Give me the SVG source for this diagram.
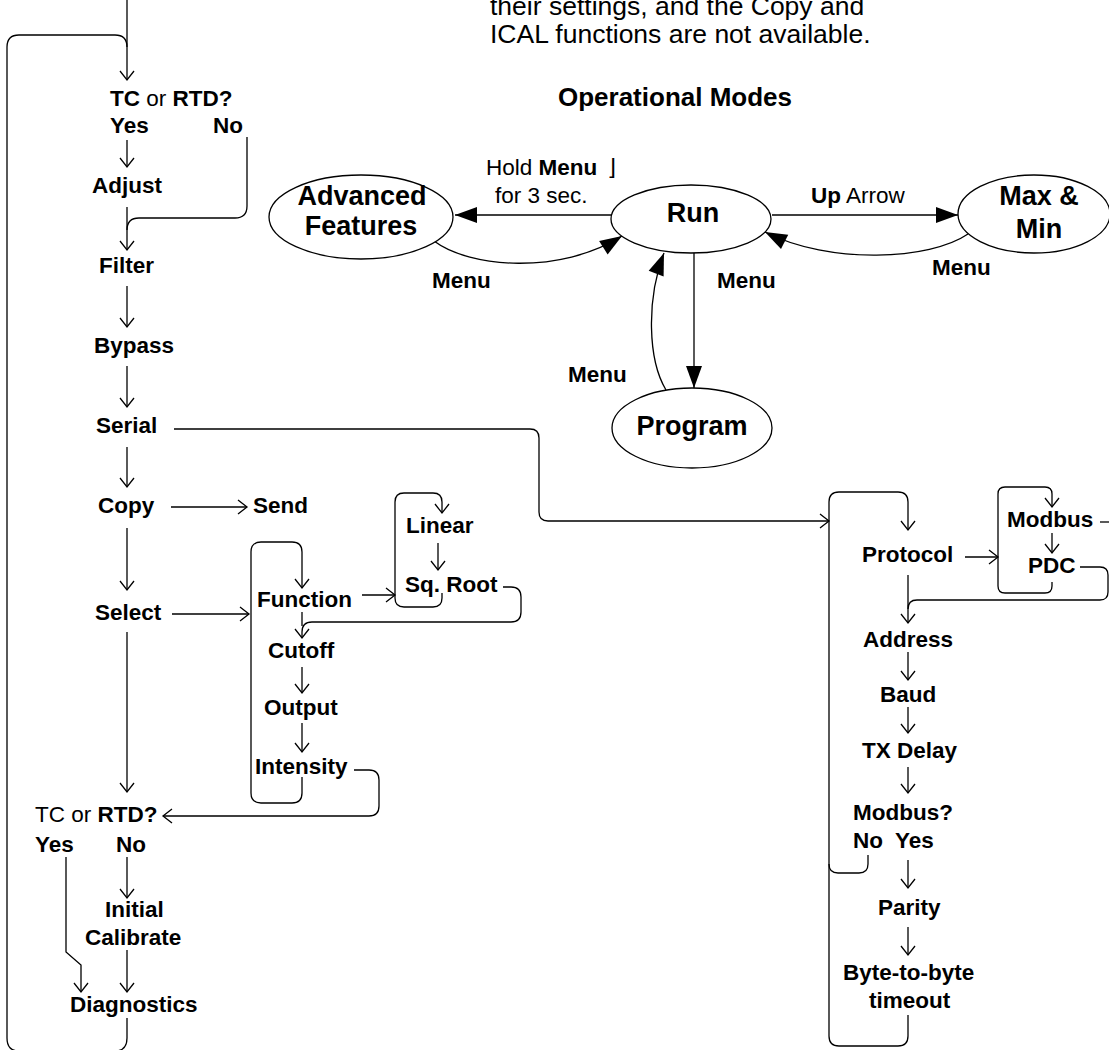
<svg xmlns="http://www.w3.org/2000/svg" width="1109" height="1050" viewBox="0 0 1109 1050">
<style>
text{font-family:"Liberation Sans",Arial,"DejaVu Sans",sans-serif;fill:#000}
.t{font-size:22.5px;font-weight:bold}
.r{font-weight:normal}
.b{font-weight:bold}
.big{font-size:27px;font-weight:bold}
.para{font-size:26.5px;font-weight:normal}
.title{font-size:26px;font-weight:bold}
.ln{fill:none;stroke:#000;stroke-width:1.3}
.ell{fill:#fff;stroke:#000;stroke-width:1.3}
.oa{marker-end:url(#open)}
.fa{marker-end:url(#fill)}
</style>
<defs>
<marker id="open" markerUnits="userSpaceOnUse" viewBox="-11 -9 13 18" markerWidth="13" markerHeight="18" refX="0" refY="0" orient="auto">
<path d="M-9,-7 L0,0 L-9,7" fill="none" stroke="#000" stroke-width="1.3"/>
</marker>
<marker id="fill" markerUnits="userSpaceOnUse" viewBox="-23 -9 24 18" markerWidth="24" markerHeight="18" refX="0" refY="0" orient="auto">
<path d="M-22,-8 L0,0 L-22,8 z" fill="#000"/>
</marker>
</defs>
<rect width="1109" height="1050" fill="#fff"/>

<g id="note">
<text class="para" x="490" y="15">their settings, and the Copy and</text>
<text class="para" x="490" y="43">ICAL functions are not available.</text>
</g>
<text id="title" class="title" x="675" y="106" text-anchor="middle">Operational Modes</text>

<g id="connectors">
<!-- operational modes -->
<path class="ln fa" d="M612,215 H455"/>
<path class="ln fa" d="M772,215 H958"/>
<path class="ln fa" d="M434,241 C470,268 560,275 622,236"/>
<path class="ln fa" d="M968,234 C930,260 830,265 765,232"/>
<path class="ln fa" d="M694,253 V388"/>
<path class="ln fa" d="M666,390 C648,360 646,300 664,253"/>
<!-- left column -->
<path class="ln oa" d="M127,0 V80"/>
<path class="ln" d="M127,1018 V1038 Q127,1051 115,1051 H19 Q7,1051 7,1038 V47 Q7,35 19,35 H115 Q127,35 127,47"/>
<path class="ln oa" d="M127,140 V167"/>
<path class="ln oa" d="M127,207 V250"/>
<path class="ln" d="M247,137 V206 Q247,218 235,218 H139 Q127,218 127,230"/>
<path class="ln oa" d="M127,286 V327"/>
<path class="ln oa" d="M127,366 V407"/>
<path class="ln oa" d="M127,447 V487"/>
<path class="ln oa" d="M171,507 H247"/>
<path class="ln oa" d="M127,528 V590"/>
<path class="ln oa" d="M172,614 H249"/>
<path class="ln oa" d="M127,632 V792"/>
<path class="ln oa" d="M302,777 V793 Q302,803 292,803 H261 Q251,803 251,793 V552 Q251,542 261,542 H292 Q302,542 302,552 V588"/>
<path class="ln" d="M302,612 V626"/>
<path class="ln oa" d="M503,587 H511 Q521,587 521,597 V612 Q521,622 511,622 H312 Q302,622 302,632 V638"/>
<path class="ln oa" d="M302,667 V693"/>
<path class="ln oa" d="M302,723 V752"/>
<path class="ln oa" d="M354,770 H369 Q379,770 379,780 V806 Q379,816 369,816 H163"/>
<path class="ln oa" d="M362,595 H395"/>
<path class="ln oa" d="M442,593 V598 Q442,607 433,607 H404 Q395,607 395,598 V502 Q395,493 404,493 H433 Q442,493 442,502 V513"/>
<path class="ln oa" d="M438,543 V570"/>
<path class="ln oa" d="M127,857 V898"/>
<path class="ln oa" d="M127,950 V992"/>
<path class="ln oa" d="M66,857 V952 L81,965 V992"/>
<!-- serial -->
<path class="ln oa" d="M174,429 H530 Q539,429 539,438 V512 Q539,521 548,521 H829"/>
<!-- right column -->
<path class="ln oa" d="M908,1015 V1036 Q908,1046 898,1046 H839 Q829,1046 829,1036 V502 Q829,492 839,492 H898 Q908,492 908,502 V530"/>
<path class="ln" d="M868,855 V864 Q868,873 859,873 H838 Q829,873 829,864"/>
<path class="ln oa" d="M965,557 H998"/>
<path class="ln oa" d="M1052,582 V586 Q1052,593 1045,593 H1005 Q998,593 998,586 V494 Q998,487 1005,487 H1045 Q1052,487 1052,494 V507"/>
<path class="ln oa" d="M1052,533 V553"/>
<path class="ln" d="M1100,522 H1109"/>
<path class="ln" d="M1080,567 H1100 Q1108,567 1108,575 V592 Q1108,600 1100,600 H917 Q908,600 908,609"/>
<path class="ln oa" d="M908,575 V623"/>
<path class="ln oa" d="M908,652 V680"/>
<path class="ln oa" d="M908,707 V733"/>
<path class="ln oa" d="M908,767 V793"/>
<path class="ln oa" d="M908,860 V888"/>
<path class="ln oa" d="M908,927 V955"/>
</g>

<g id="advanced"><ellipse class="ell" cx="361" cy="217" rx="92" ry="42"/><text class="big" x="362" y="205" text-anchor="middle">Advanced</text><text class="big" x="361" y="235" text-anchor="middle">Features</text></g>
<g id="run"><ellipse class="ell" cx="691" cy="219" rx="80" ry="34"/><text class="big" x="693" y="222" text-anchor="middle">Run</text></g>
<g id="maxmin"><ellipse class="ell" cx="1034" cy="214" rx="76" ry="39"/><text class="big" x="1039" y="205" text-anchor="middle">Max &amp;</text><text class="big" x="1039" y="238" text-anchor="middle">Min</text></g>
<g id="program"><ellipse class="ell" cx="692" cy="428" rx="80" ry="40"/><text class="big" x="692" y="435" text-anchor="middle">Program</text></g>

<g id="mode-labels">
<text class="t r" x="486" y="175">Hold <tspan class="b">Menu</tspan><tspan dx="10">⌋</tspan></text>
<text class="t r" x="495" y="203">for 3 sec.</text>
<text class="t r" x="811" y="203"><tspan class="b">Up</tspan> Arrow</text>
<text class="t" x="432" y="288">Menu</text>
<text class="t" x="717" y="288">Menu</text>
<text class="t" x="568" y="382">Menu</text>
<text class="t" x="932" y="275">Menu</text>
</g>

<g id="tc1"><text class="t" x="110" y="106">TC <tspan class="r">or</tspan> RTD?</text><text class="t" x="110" y="133">Yes</text><text class="t" x="213" y="133">No</text></g>
<g id="adjust"><text class="t" x="92" y="193">Adjust</text></g>
<g id="filter"><text class="t" x="99" y="273">Filter</text></g>
<g id="bypass"><text class="t" x="94" y="353">Bypass</text></g>
<g id="serial"><text class="t" x="96" y="433">Serial</text></g>
<g id="copy"><text class="t" x="98" y="513">Copy</text></g>
<g id="send"><text class="t" x="253" y="513">Send</text></g>
<g id="select"><text class="t" x="95" y="620">Select</text></g>
<g id="function"><text class="t" x="257" y="607">Function</text></g>
<g id="linear"><text class="t" x="406" y="533">Linear</text></g>
<g id="sqroot"><text class="t" x="405" y="592">Sq. Root</text></g>
<g id="cutoff"><text class="t" x="268" y="658">Cutoff</text></g>
<g id="output"><text class="t" x="264" y="715">Output</text></g>
<g id="intensity"><text class="t" x="255" y="774">Intensity</text></g>
<g id="tc2"><text class="t r" x="35" y="822">TC or <tspan class="b">RTD?</tspan></text><text class="t" x="35" y="852">Yes</text><text class="t" x="116" y="852">No</text></g>
<g id="initcal"><text class="t" x="105" y="917">Initial</text><text class="t" x="85" y="945">Calibrate</text></g>
<g id="diagnostics"><text class="t" x="70" y="1012">Diagnostics</text></g>

<g id="protocol"><text class="t" x="862" y="562">Protocol</text></g>
<g id="modbus"><text class="t" x="1007" y="527">Modbus</text></g>
<g id="pdc"><text class="t" x="1028" y="573">PDC</text></g>
<g id="address"><text class="t" x="863" y="647">Address</text></g>
<g id="baud"><text class="t" x="880" y="702">Baud</text></g>
<g id="txdelay"><text class="t" x="862" y="758">TX Delay</text></g>
<g id="modbusq"><text class="t" x="853" y="820">Modbus?</text><text class="t" x="853" y="848">No</text><text class="t" x="895" y="848">Yes</text></g>
<g id="parity"><text class="t" x="878" y="915">Parity</text></g>
<g id="byte"><text class="t" x="843" y="980">Byte-to-byte</text><text class="t" x="869" y="1008">timeout</text></g>
</svg>
